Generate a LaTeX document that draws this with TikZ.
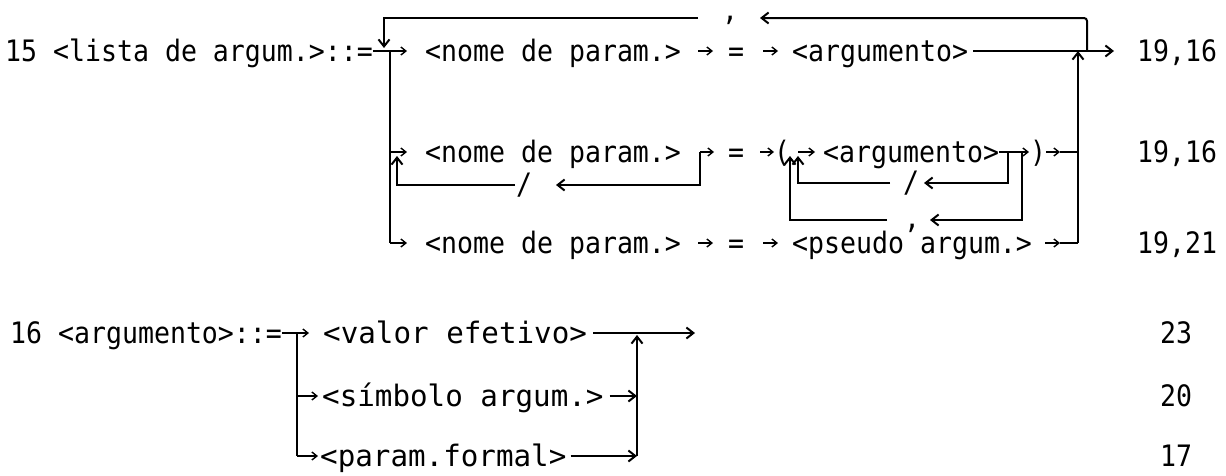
\documentclass[tikz,border=0pt]{standalone}
\usepackage{fontspec}
\setmonofont[FakeStretch=0.9]{DejaVu Sans Mono}
\usetikzlibrary{arrows.meta}
\tikzset{
  txt/.style={font=\ttfamily\fontsize{29.5}{32}\selectfont, inner sep=0pt, anchor=west, text height=21pt, text depth=0pt},
  symb/.style={font=\ttfamily\fontsize{29.5}{32}\selectfont, inner sep=0pt, anchor=base west},
  ln/.style={line width=2pt},
  ar/.style={ln, -{Straight Barb[length=7pt,width=11pt]}},
  sar/.style={line width=1.4pt, -{Straight Barb[length=5pt,width=8pt]}},
}
\newcommand{\wide}[1]{\scalebox{1.1}[1]{#1}}
\begin{document}
\begin{tikzpicture}[x=1pt,y=-1pt]
\useasboundingbox (0,0) rectangle (1226,475);
% ---------- row 1
\node[txt] (n15) at (5,51) {15 <lista de argum.>::=};
\node[txt] (nome1) at (425,51) {<nome de param.>};
\node[txt] (eq1) at (728,51) {=};
\node[txt] (arg1) at (792,51) {<argumento>};
\node[txt] (lab1) at (1137,51) {19,16};
\coordinate (L1) at (390,51);
\coordinate (L1e) at (407,51);
\coordinate (a1s) at (698,51); \coordinate (a1e) at (713,51);
\coordinate (b1s) at (763,51); \coordinate (b1e) at (778,51);
\coordinate (R1) at (1078,51);
\coordinate (T1) at (1087,51);
\coordinate (out1) at (1114,51);
\draw[ln] (n15.east) -- (L1);
\draw[sar] (L1) -- (L1e);
\draw[sar] (a1s) -- (a1e);
\draw[sar] (b1s) -- (b1e);
\draw[ar, shorten <=5pt] (arg1.east) -- (out1);
% top loop with comma
\node[symb] (c1) at (722,20) {,};
\coordinate (c1r) at (760,18);
\coordinate (c1l) at (698,18);
\coordinate (L1t) at (384,48);
\draw[ar, rounded corners=3pt] (T1) |- (c1r);
\draw[ar] (c1l) -| (L1t);
% ---------- row 2
\node[txt] (nome2) at (425,152) {<nome de param.>};
\node[txt] (eq2) at (728,152) {=};
\node[txt] (po2) at (774,152) {(};
\node[txt] (arg2) at (823,152) {<argumento>};
\node[txt] (pc2) at (1030,152) {)};
\node[txt] (lab2) at (1137,152) {19,16};
\coordinate (L2) at (390,152); \coordinate (L2e) at (407,152);
\coordinate (S2) at (700,152); \coordinate (S2e) at (714,152);
\coordinate (b2s) at (760,152); \coordinate (b2e) at (774,152);
\coordinate (I2) at (798,152); \coordinate (I2e) at (815,152);
\coordinate (A2e) at (1029,152);
\coordinate (d2s) at (1046,152); \coordinate (d2e) at (1060,152);
\coordinate (R2) at (1078,152);
\draw[sar] (L2) -- (L2e);
\draw[sar] (S2) -- (S2e);
\draw[sar] (b2s) -- (b2e);
\draw[sar] (I2) -- (I2e);
\draw[sar] (arg2.east) -- (A2e);
\draw[sar] (d2s) -- (d2e);
\draw[ln] (d2e) -- (R2);
% slash loop on <nome de param.>
\node[symb] (sl1) at (516,194) {/};
\coordinate (sl1r) at (556,185); \coordinate (sl1l) at (515,185);
\coordinate (U2) at (397,156);
\draw[ar] (S2) |- (sl1r);
\draw[ar] (sl1l) -| (U2);
% inner slash loop on <argumento>
\node[symb] (sl2) at (903,192) {/};
\coordinate (sl2r) at (924,183); \coordinate (sl2l) at (890,183);
\coordinate (K2) at (1008,152);
\coordinate (U3) at (798,156);
\draw[ar] (K2) |- (sl2r);
\draw[ar] (sl2l) -| (U3);
% outer comma loop
\node[symb] (c2) at (904,228) {,};
\coordinate (c2r) at (930,220); \coordinate (c2l) at (887,220);
\coordinate (K3) at (1022,152);
\coordinate (U4) at (790,156);
\draw[ar] (K3) |- (c2r);
\draw[ar] (c2l) -| (U4);
% ---------- row 3
\node[txt] (nome3) at (425,243) {<nome de param.>};
\node[txt] (eq3) at (728,243) {=};
\node[txt] (ps3) at (792,243) {<pseudo argum.>};
\node[txt] (lab3) at (1137,243) {19,21};
\coordinate (L3) at (390,243); \coordinate (L3e) at (407,243);
\coordinate (a3s) at (698,243); \coordinate (a3e) at (713,243);
\coordinate (b3s) at (763,243); \coordinate (b3e) at (778,243);
\coordinate (d3s) at (1045,243); \coordinate (d3e) at (1060,243);
\coordinate (R3) at (1078,243);
\draw[ln] (L1) -- (L3);
\draw[sar] (L3) -- (L3e);
\draw[sar] (a3s) -- (a3e);
\draw[sar] (b3s) -- (b3e);
\draw[sar] (d3s) -- (d3e);
\draw[ln] (d3e) -- (R3);
\draw[ar] (R3) -- (R1);
% ---------- rule 16
\node[txt] (n16) at (10,333) {16 <argumento>::=};
\node[txt] (val) at (323,333) {\wide{<valor efetivo>}};
\node[txt] (sim) at (322,396) {\wide{<símbolo argum.>}};
\node[txt] (par) at (320,456) {\wide{<param.formal>}};
\node[txt] (lab4) at (1160,333) {23};
\node[txt] (lab5) at (1160,396) {20};
\node[txt] (lab6) at (1160,456) {17};
\coordinate (B4) at (297,333); \coordinate (B4e) at (309,333);
\coordinate (B5) at (297,396); \coordinate (B5e) at (318,396);
\coordinate (B6) at (297,456); \coordinate (B6e) at (318,456);
\coordinate (R4) at (637,335);
\coordinate (R5) at (637,396);
\coordinate (R6) at (637,456);
\coordinate (out4) at (695,333);
\draw[ln] (n16.east) -- (B4);
\draw[sar] (B4) -- (B4e);
\draw[ln] (B4) -- (B6);
\draw[sar] (B5) -- (B5e);
\draw[sar] (B6) -- (B6e);
\draw[ar, shorten <=6pt] (val.east) -- (out4);
\draw[ar, shorten <=6pt] (sim.east) -- (R5);
\draw[ar, shorten <=4pt] (par.east) -- (R6);
\draw[ar] (R6) -- (R4);
\end{tikzpicture}
\end{document}
